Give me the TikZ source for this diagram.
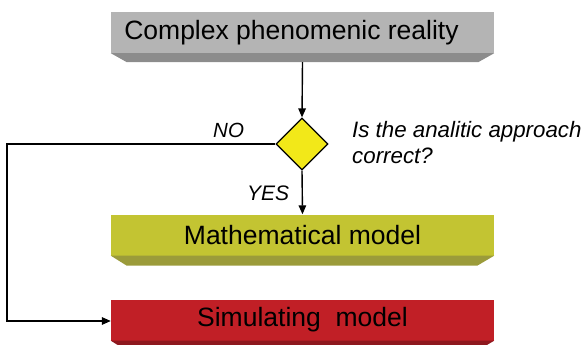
\documentclass[tikz,border=0pt]{standalone}
\usepackage{fontspec}
\setmainfont{Liberation Sans}
\usetikzlibrary{shapes.geometric,arrows.meta,calc}
\definecolor{grayface}{RGB}{180,180,180}
\definecolor{graybevel}{RGB}{140,140,140}
\definecolor{olface}{RGB}{195,196,50}
\definecolor{olbevel}{RGB}{155,155,58}
\definecolor{redface}{RGB}{193,31,38}
\definecolor{redbevel}{RGB}{142,24,30}
\definecolor{decyellow}{RGB}{242,232,25}
\tikzset{
  boxface/.style={rectangle, inner sep=0pt, minimum width=383pt, minimum height=41pt,
    font=\fontsize{26.5}{30}\selectfont},
  decbox/.style={diamond, draw=black, line width=1.2pt, fill=decyellow, inner sep=0pt,
    minimum width=52pt, minimum height=52pt},
  lbl/.style={inner sep=0pt, anchor=base west, font=\fontsize{21}{24}\selectfont\itshape},
  conn/.style={line width=1.4pt, -{Triangle[length=9pt,width=7.5pt]}}
}
\begin{document}
\begin{tikzpicture}[x=1pt,y=-1pt]
\useasboundingbox (0,0) rectangle (586,345);
% top box
\node[boxface, fill=grayface] (top) at (302.5,32.5) {Complex phenomenic reality\hspace*{22pt}};
\fill[graybevel] (top.south west) -- (top.south east) -- ++(-16,9) -- ($(top.south west)+(16,9)$) -- cycle;
% math box
\node[boxface, fill=olface] (math) at (302.5,235) {Mathematical model};
\fill[olbevel] (math.south west) -- (math.south east) -- ++(-17,10) -- ($(math.south west)+(16,10)$) -- cycle;
% simulating box
\node[boxface, fill=redface] (sim) at (302.5,320) {Simulating\ \ model};
\fill[redbevel] (sim.south west) -- (sim.south east) -- ++(-17,10) -- ($(sim.south west)+(16,10)$) -- cycle;
% decision
\node[decbox] (dec) at (302,144) {};
\coordinate (topout) at ($(top.south)+(0,9)$);
\draw[conn] (topout) -- (dec.north);
\draw[conn] (dec.south) -- (math.north);
\coordinate (c1) at (7,144);
\coordinate (c2) at (7,321);
\draw[conn] (dec.west) -- (c1) -- (c2) -- (c2 -| sim.west);
% labels
\node[lbl, font=\fontsize{20.5}{24}\selectfont\itshape] (no) at (213,137) {NO};
\node[lbl] (yes) at (247,200) {YES};
\node[lbl, font=\fontsize{22.3}{26}\selectfont\itshape] (q1) at (352,137) {Is the analitic approach};
\node[lbl, font=\fontsize{22.3}{26}\selectfont\itshape] (q2) at (352,163) {correct?};
\end{tikzpicture}
\end{document}
